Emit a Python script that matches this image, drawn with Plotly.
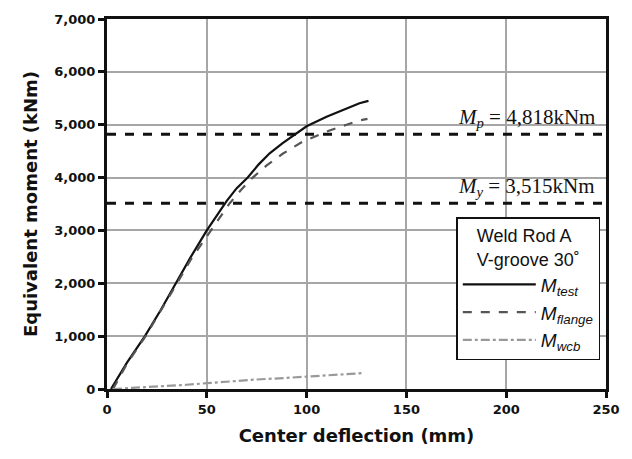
import plotly.graph_objects as go

# Data
test_x = [2, 10, 19, 27, 34.5, 42, 50, 55, 60, 65, 70.5, 76, 81.5, 88, 94, 100, 110, 120, 126.5, 131]
test_y = [0, 500, 1000, 1500, 2000, 2500, 3000, 3290, 3560, 3800, 4000, 4250, 4460, 4650, 4818, 4970, 5150, 5310, 5405, 5450]

flange_x = [3, 10, 19, 27, 34.5, 42, 51, 56, 61.5, 67, 73, 80, 88, 98, 111.5, 120, 126.5, 130.5]
flange_y = [0, 480, 980, 1480, 1960, 2450, 2950, 3230, 3515, 3760, 4000, 4230, 4450, 4680, 4890, 5000, 5080, 5110]

wcb_x = [3, 10, 25, 40, 50, 60, 75, 90, 100, 115, 128]
wcb_y = [0, 15, 40, 80, 110, 140, 180, 210, 230, 260, 300]

Mp = 4818
My = 3515
x_ticks = [0, 50, 100, 150, 200, 250]
y_ticks = [0, 1000, 2000, 3000, 4000, 5000, 6000, 7000]
y_tick_labels = ["0", "1,000", "2,000", "3,000", "4,000", "5,000", "6,000", "7,000"]

fig = go.Figure()
fig.add_trace(go.Scatter(x=test_x, y=test_y, mode="lines",
                         line=dict(color="#111111", width=2.2),
                         name="<i>M</i><sub><i>test</i></sub>"))
fig.add_trace(go.Scatter(x=flange_x, y=flange_y, mode="lines",
                         line=dict(color="#555555", width=2.2, dash="dash"),
                         name="<i>M</i><sub><i>flange</i></sub>"))
fig.add_trace(go.Scatter(x=wcb_x, y=wcb_y, mode="lines",
                         line=dict(color="#999999", width=2.2, dash="dashdot"),
                         name="<i>M</i><sub><i>wcb</i></sub>"))

for val in (Mp, My):
    fig.add_shape(type="line", xref="paper", x0=0, x1=1, yref="y", y0=val, y1=val,
                  line=dict(color="#111111", width=3, dash="dash"), layer="above")

serif = "Liberation Serif, Times New Roman, serif"
fig.add_annotation(xref="paper", x=0.982, yref="y", y=Mp, xanchor="right", yanchor="bottom",
                   text="<i>M</i><sub><i>p</i></sub> = 4,818kNm", showarrow=False,
                   font=dict(family=serif, size=21, color="#111111"), yshift=1)
fig.add_annotation(xref="paper", x=0.982, yref="y", y=My, xanchor="right", yanchor="bottom",
                   text="<i>M</i><sub><i>y</i></sub> = 3,515kNm", showarrow=False,
                   font=dict(family=serif, size=21, color="#111111"), yshift=1)

axis_common = dict(showline=True, linecolor="#111111", linewidth=3, mirror=True,
                   showgrid=True, gridcolor="#a6a6a6", gridwidth=2,
                   ticks="outside", ticklen=6, tickwidth=3, tickcolor="#111111",
                   zeroline=False,
                   tickfont=dict(family="DejaVu Sans", size=13, color="#111111", weight="bold"))

fig.update_layout(
    width=632, height=459,
    margin=dict(l=107, r=25, t=14, b=70),
    paper_bgcolor="white", plot_bgcolor="white",
    xaxis=dict(range=[0, 250], tickvals=x_ticks, **axis_common,
               title=dict(text="Center deflection (mm)", standoff=14,
                          font=dict(family="DejaVu Sans", size=18, color="#111111", weight="bold"))),
    yaxis=dict(range=[0, 7000], tickvals=y_ticks, ticktext=y_tick_labels, **axis_common,
               title=dict(text="Equivalent moment (kNm)", standoff=12,
                          font=dict(family="DejaVu Sans", size=18, color="#111111", weight="bold"))),
    legend=dict(x=0.70, y=0.464, xanchor="left", yanchor="top",
                bgcolor="white", bordercolor="#111111", borderwidth=1.5,
                itemwidth=73,
                font=dict(family="Liberation Sans, Arial", size=19, color="#111111"),
                title=dict(text="Weld Rod A<br>V-groove 30\u02da", side="top center",
                           font=dict(family="Liberation Sans, Arial", size=18, color="#111111"))),
)

fig.write_html("out.html")
